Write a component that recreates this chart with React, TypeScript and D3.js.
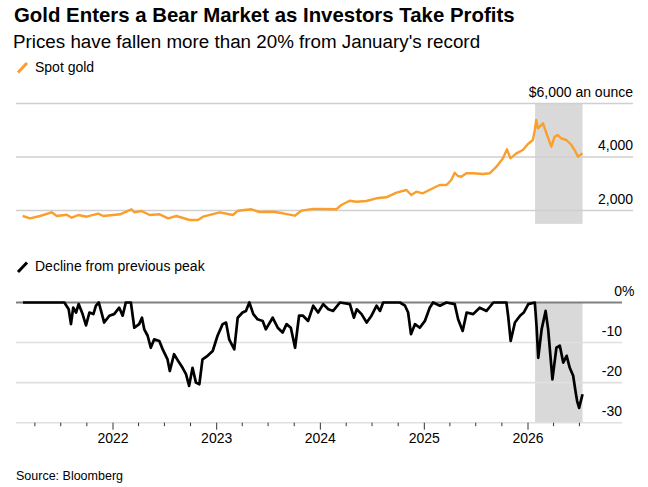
import React from 'react'
import * as d3 from 'd3'

// spot gold, $ an ounce
const spotGold: [string, number][] = [
  ['2021-02-17', 1794], ['2021-03-15', 1708], ['2021-04-19', 1794], ['2021-05-30', 1932],
  ['2021-06-17', 1794], ['2021-07-22', 1843], ['2021-08-09', 1731], ['2021-09-01', 1832],
  ['2021-09-30', 1768], ['2021-11-10', 1880], ['2021-11-28', 1794], ['2022-01-26', 1858],
  ['2022-03-07', 2045], ['2022-03-18', 1932], ['2022-04-11', 1981], ['2022-05-10', 1832],
  ['2022-06-14', 1858], ['2022-07-14', 1708], ['2022-08-12', 1794], ['2022-09-28', 1645],
  ['2022-10-27', 1645], ['2022-11-14', 1768], ['2023-01-12', 1932], ['2023-02-27', 1832],
  ['2023-03-17', 1993], ['2023-05-03', 2045], ['2023-06-01', 1944], ['2023-07-18', 1955],
  ['2023-08-22', 1895], ['2023-10-03', 1806], ['2023-10-26', 1993], ['2023-12-06', 2056],
  ['2024-01-01', 2056], ['2024-02-26', 2045], ['2024-03-15', 2205], ['2024-04-13', 2366],
  ['2024-05-07', 2329], ['2024-06-11', 2355], ['2024-07-16', 2456], ['2024-08-20', 2493],
  ['2024-09-25', 2665], ['2024-10-30', 2766], ['2024-11-16', 2579], ['2024-12-04', 2703],
  ['2024-12-27', 2643], ['2025-01-31', 2830], ['2025-02-24', 2953], ['2025-03-20', 2953],
  ['2025-04-06', 3140], ['2025-04-18', 3413], ['2025-04-29', 3289], ['2025-05-11', 3263],
  ['2025-05-29', 3390], ['2025-06-21', 3390], ['2025-07-26', 3364], ['2025-08-19', 3390],
  ['2025-09-12', 3637], ['2025-10-05', 3951], ['2025-10-19', 4287], ['2025-10-31', 3951],
  ['2025-11-21', 4138], ['2025-12-14', 4261], ['2026-01-01', 4485], ['2026-01-18', 4635],
  ['2026-01-24', 4945], ['2026-01-30', 5383], ['2026-02-05', 5072], ['2026-02-23', 5259],
  ['2026-03-07', 4885], ['2026-03-24', 4386], ['2026-04-05', 4759], ['2026-04-16', 4822],
  ['2026-04-28', 4697], ['2026-05-16', 4635], ['2026-06-03', 4448], ['2026-06-14', 4261],
  ['2026-06-26', 4012], ['2026-07-12', 4138],
]

// decline from previous peak, %
const declineFromPeak: [string, number][] = [
  ['2021-02-18', 0], ['2021-07-14', 0], ['2021-07-20', -0.7], ['2021-07-29', -1.7],
  ['2021-08-06', -5.4], ['2021-08-14', -1.3], ['2021-08-24', -2.5], ['2021-09-02', -0.4],
  ['2021-09-16', -2.9], ['2021-09-28', -5.7], ['2021-10-10', -2.5], ['2021-10-24', -2.9],
  ['2021-11-02', -0.8], ['2021-11-12', 0], ['2021-11-20', -2.1], ['2021-12-01', -5.0],
  ['2021-12-19', -3.3], ['2022-01-05', -2.9], ['2022-01-23', -1.3], ['2022-02-04', -3.3],
  ['2022-02-15', 0], ['2022-03-05', 0], ['2022-03-17', -6.3], ['2022-04-03', -5.4],
  ['2022-04-13', -3.8], ['2022-04-21', -6.7], ['2022-05-03', -8.3], ['2022-05-14', -11.3],
  ['2022-05-26', -9.2], ['2022-06-13', -9.6], ['2022-06-25', -11.7], ['2022-07-12', -14.2],
  ['2022-07-20', -17.1], ['2022-08-04', -12.9], ['2022-08-22', -15.0], ['2022-09-03', -16.3],
  ['2022-09-15', -17.9], ['2022-09-26', -20.8], ['2022-10-08', -16.3], ['2022-10-20', -20.0],
  ['2022-11-01', -20.4], ['2022-11-12', -14.2], ['2022-11-30', -13.3], ['2022-12-18', -12.1],
  ['2023-01-04', -8.3], ['2023-01-22', -5.4], ['2023-02-03', -5.0], ['2023-02-14', -9.2],
  ['2023-03-04', -11.7], ['2023-03-16', -3.8], ['2023-04-02', -2.5], ['2023-04-14', -2.1],
  ['2023-04-26', 0], ['2023-05-10', -2.9], ['2023-05-25', -4.2], ['2023-06-12', -4.6],
  ['2023-06-23', -6.7], ['2023-07-17', -3.8], ['2023-08-04', -6.3], ['2023-08-21', -7.5],
  ['2023-09-04', -5.4], ['2023-09-19', -6.3], ['2023-10-04', -11.3], ['2023-10-18', -3.3],
  ['2023-11-01', -3.3], ['2023-11-19', -4.6], ['2023-12-07', -0.8], ['2023-12-24', -2.5],
  ['2024-01-11', -0.4], ['2024-01-29', -1.7], ['2024-02-15', -2.1], ['2024-03-10', 0],
  ['2024-04-14', -0.4], ['2024-04-28', -3.8], ['2024-05-08', -1.7], ['2024-05-25', -2.9],
  ['2024-06-12', -5.0], ['2024-06-29', -3.3], ['2024-07-17', -0.8], ['2024-07-29', -2.1],
  ['2024-08-09', 0], ['2024-10-07', 0], ['2024-10-25', -0.8], ['2024-11-05', -2.5],
  ['2024-11-15', -7.9], ['2024-11-29', -5.4], ['2024-12-16', -6.3], ['2025-01-03', -4.6],
  ['2025-01-20', -1.3], ['2025-02-01', 0], ['2025-02-25', -0.8], ['2025-03-20', 0],
  ['2025-04-18', -0.4], ['2025-04-30', -4.2], ['2025-05-16', -7.1], ['2025-05-30', -2.5],
  ['2025-06-22', -2.9], ['2025-07-15', -1.3], ['2025-08-08', -2.1], ['2025-09-01', 0],
  ['2025-10-17', 0], ['2025-10-23', -3.3], ['2025-11-01', -9.6], ['2025-11-16', -5.0],
  ['2025-12-04', -3.3], ['2025-12-17', -2.5], ['2026-01-02', -0.4], ['2026-01-25', 0],
  ['2026-01-31', -5.8], ['2026-02-06', -13.8], ['2026-02-18', -6.7], ['2026-03-04', -2.1],
  ['2026-03-13', -6.7], ['2026-03-28', -19.2], ['2026-04-11', -11.3], ['2026-04-23', -10.8],
  ['2026-05-05', -15.0], ['2026-05-17', -13.3], ['2026-05-28', -16.3], ['2026-06-09', -18.3],
  ['2026-06-18', -22.5], ['2026-06-23', -24.6], ['2026-06-30', -26.3], ['2026-07-12', -22.9],
]

const goldTicks = [6000, 4000, 2000]
const declineTicks = [0, -10, -20, -30]
const yearLabels = [2022, 2023, 2024, 2025, 2026]
const bearStart = '2026-01-26'
const bearEnd = '2026-07-12'

const ORANGE = '#fa9e2c'
const FONT = '"Liberation Sans", Arial, sans-serif'

const parse = d3.timeParse('%Y-%m-%d')

const App = () => {
  const x = d3.scaleTime()
    .domain([new Date(2022, 0, 1), new Date(2026, 0, 1)])
    .range([113, 528])
  const yGold = d3.scaleLinear().domain([2000, 6000]).range([210.5, 103.5])
  const yDecl = d3.scaleLinear().domain([0, -30]).range([302.5, 422.7])

  const goldLine = d3.line<[string, number]>()
    .x(d => x(parse(d[0])!))
    .y(d => yGold(d[1]))
  const declLine = d3.line<[string, number]>()
    .x(d => x(parse(d[0])!))
    .y(d => yDecl(d[1]))

  const quarterTicks = d3.timeMonth.every(3)!.range(new Date(2021, 3, 1), new Date(2026, 6, 2))
  const sx0 = x(parse(bearStart)!)
  const sx1 = x(parse(bearEnd)!)

  const left = 16
  const rightTop = 633
  const rightBot = 622

  return (
    <svg width={648} height={487} style={{ position: 'absolute', left: 0, top: 0, background: '#fff' }}
      fontFamily={FONT}>
      <text x={14} y={22} fontSize={20.4} fontWeight="bold" fill="#000">
        Gold Enters a Bear Market as Investors Take Profits
      </text>
      <text x={13} y={48} fontSize={18.8} fill="#000">
        Prices have fallen more than 20% from January's record
      </text>

      {/* top panel */}
      <line x1={18} y1={72.5} x2={27} y2={63} stroke={ORANGE} strokeWidth={3} />
      <text x={35} y={72} fontSize={14}>Spot gold</text>

      <rect x={sx0} y={yGold(6000)} width={sx1 - sx0} height={yGold(1500) - yGold(6000)} fill="#d9d9d9" />
      {goldTicks.map(t => (
        <g key={t}>
          <line x1={left} x2={rightTop} y1={yGold(t)} y2={yGold(t)} stroke="#cfcfcf" strokeWidth={1.3} />
          <text x={rightTop} y={yGold(t) - 7} textAnchor="end" fontSize={14}>
            {t === 6000 ? '$6,000 an ounce' : d3.format(',')(t)}
          </text>
        </g>
      ))}
      <path d={goldLine(spotGold)!} fill="none" stroke={ORANGE} strokeWidth={2.4} strokeLinejoin="round" />

      {/* bottom panel */}
      <line x1={18} y1={272} x2={27} y2={262.5} stroke="#000" strokeWidth={3} />
      <text x={35} y={271} fontSize={14}>Decline from previous peak</text>

      <rect x={sx0} y={yDecl(0)} width={sx1 - sx0} height={yDecl(-30) - yDecl(0)} fill="#d9d9d9" />
      {declineTicks.map(t => (
        <g key={t}>
          <line x1={left} x2={rightBot} y1={yDecl(t)} y2={yDecl(t)}
            stroke={t === 0 ? '#808080' : '#e0e0e0'} strokeWidth={t === 0 ? 2 : 1.6} />
          <text x={rightBot} y={yDecl(t) - 7} textAnchor="end" fontSize={14}>{t}</text>
          {t === 0 && <text x={rightBot} y={yDecl(t) - 7} fontSize={14}>%</text>}
        </g>
      ))}
      {quarterTicks.map(d => {
        const isYear = d.getMonth() === 0
        return (
          <line key={+d} x1={x(d)} x2={x(d)} y1={yDecl(-30)} y2={yDecl(-30) + (isYear ? 7 : 3.5)}
            stroke="#333" strokeWidth={1} />
        )
      })}
      {yearLabels.map(yr => (
        <text key={yr} x={x(new Date(yr, 0, 1))} y={443} textAnchor="middle" fontSize={14}>{yr}</text>
      ))}
      <path d={declLine(declineFromPeak)!} fill="none" stroke="#000" strokeWidth={2.7} strokeLinejoin="round" />

      <text x={16} y={480} fontSize={12.5}>Source: Bloomberg</text>
    </svg>
  )
}

export default App
